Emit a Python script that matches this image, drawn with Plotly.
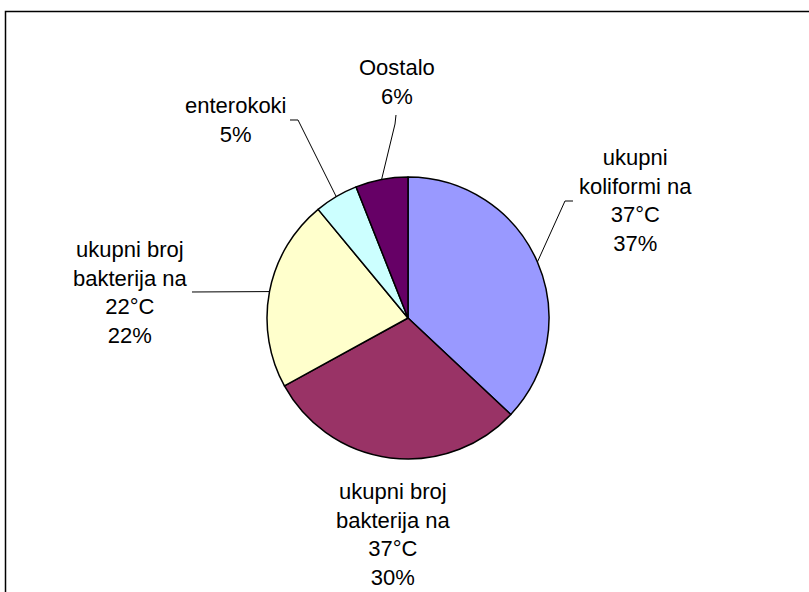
import math
import plotly.graph_objects as go

# Udio pokazatelja onečišćenja (%)
categories = [
    "ukupni koliformi na 37°C",
    "ukupni broj bakterija na 37°C",
    "ukupni broj bakterija na 22°C",
    "enterokoki",
    "Oostalo",
]
values = [37, 30, 22, 5, 6]
label_lines = [
    ["ukupni", "koliformi na", "37°C"],
    ["ukupni broj", "bakterija na", "37°C"],
    ["ukupni broj", "bakterija na", "22°C"],
    ["enterokoki"],
    ["Oostalo"],
]
colors = ["#9999FF", "#993366", "#FFFFCC", "#CCFFFF", "#660066"]

W, H = 809, 592
CX, CY, R = 408, 318, 141  # pie centre and radius in pixels

# label block centres (px) and leader-line bends (px, None = straight)
label_pos = [(635, 201), (393, 534), (130, 292), (236, 120), (397, 82)]
leader_ends = [
    [(573, 201), (565, 201)],
    None,
    [(192, 292)],
    [(290, 120), (298, 120)],
    [(396, 115), (395, 124)],
]


def px(x):
    return x / W


def py(y):
    return 1 - y / H


fig = go.Figure(
    go.Pie(
        labels=categories,
        values=values,
        sort=False,
        direction="clockwise",
        rotation=0,
        marker=dict(colors=colors, line=dict(color="black", width=1.5)),
        textinfo="none",
        hoverinfo="label+percent",
        showlegend=False,
        domain=dict(x=[px(CX - R), px(CX + R)], y=[py(CY + R), py(CY - R)]),
    )
)

total = sum(values)
shapes = []
annotations = []
cum = 0
for i, v in enumerate(values):
    mid = (cum + v / 2) / total * 2 * math.pi
    cum += v
    pct = round(v / total * 100)
    text = "<br>".join(label_lines[i] + [f"{pct}%"])
    lx, ly = label_pos[i]
    annotations.append(
        dict(
            x=px(lx), y=py(ly), xref="paper", yref="paper",
            xanchor="center", yanchor="middle",
            text=text, showarrow=False, align="center",
            font=dict(family="Liberation Sans, Arial", size=22, color="black"),
        )
    )
    if leader_ends[i]:
        ex = CX + R * math.sin(mid)
        ey = CY - R * math.cos(mid)
        pts = leader_ends[i] + [(ex, ey)]
        path = "M " + " L ".join(f"{px(x):.5f},{py(y):.5f}" for x, y in pts)
        shapes.append(
            dict(type="path", path=path, xref="paper", yref="paper",
                 line=dict(color="black", width=1))
        )

# chart area frame (top and left edges)
shapes.append(
    dict(type="path", xref="paper", yref="paper",
         path=f"M {px(5.5)},{py(H + 5)} L {px(5.5)},{py(11.5)} L {px(W + 5)},{py(11.5)}",
         line=dict(color="black", width=1.5))
)

fig.update_layout(
    width=W, height=H,
    margin=dict(l=0, r=0, t=0, b=0),
    paper_bgcolor="white",
    plot_bgcolor="white",
    shapes=shapes,
    annotations=annotations,
)

fig.write_html("out.html")
